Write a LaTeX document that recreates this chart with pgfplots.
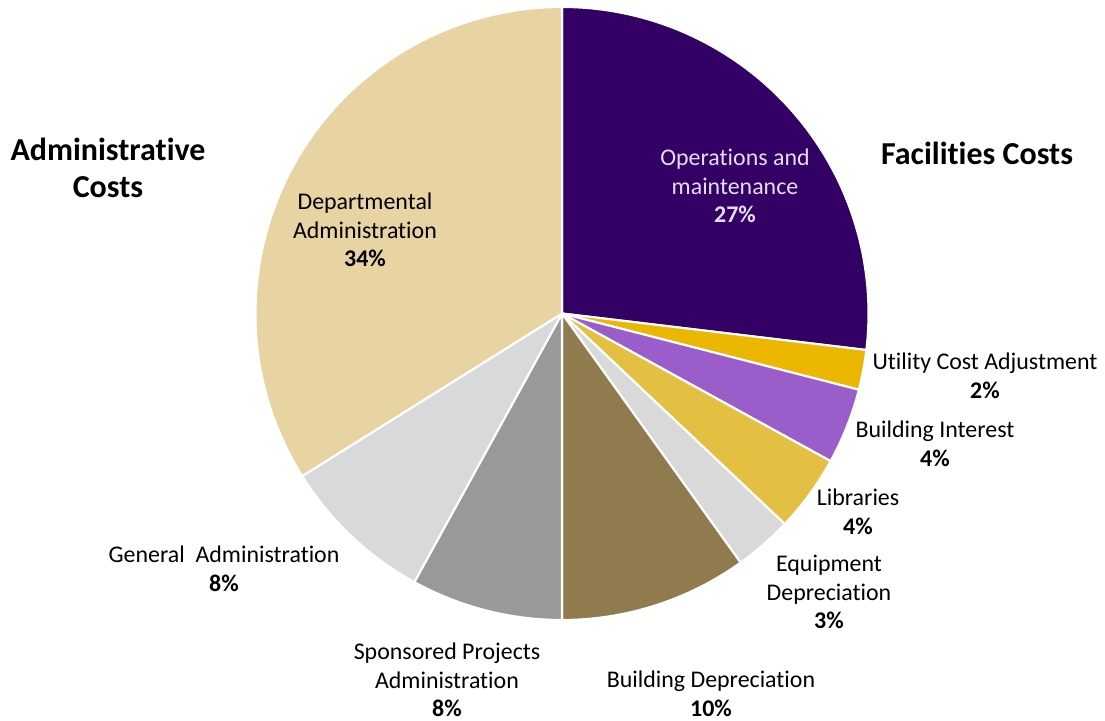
\documentclass[border=0pt]{standalone}
\usepackage{pgfplots}
\pgfplotsset{compat=1.18}
\usepackage{pgfplotstable}
\usepackage{fontspec}
\setmainfont[Ligatures=NoCommon]{Carlito}

\definecolor{cOM}{HTML}{330066}
\definecolor{cUtil}{HTML}{EBB700}
\definecolor{cBInt}{HTML}{9B5DCA}
\definecolor{cLib}{HTML}{E3BF42}
\definecolor{cEquip}{HTML}{D9D9D9}
\definecolor{cBDep}{HTML}{8F7B4D}
\definecolor{cSpon}{HTML}{999999}
\definecolor{cGen}{HTML}{D8D9DB}
\definecolor{cDept}{HTML}{E8D3A2}
\definecolor{cOMtext}{HTML}{E6DDF0}

% share of each slice in percent, clockwise from 12 o'clock
\pgfplotstableread{
value color
26.9  cOM
2.1   cUtil
4.0   cBInt
4.05  cLib
3.05  cEquip
9.9   cBDep
8.0   cSpon
8.1   cGen
33.9  cDept
}\piedata

\begin{document}
\begin{tikzpicture}
\begin{axis}[
    x=0.2mm, y=0.2mm,
    xmin=0, xmax=1105, ymin=0, ymax=721,
    hide axis,
    clip=false,
]
\path (axis cs:0,0) rectangle (axis cs:1105,721);
\def\angA{90}
\pgfplotsforeachungrouped \i in {0,...,8}{
  \pgfplotstablegetelem{\i}{value}\of\piedata \let\v\pgfplotsretval
  \pgfplotstablegetelem{\i}{color}\of\piedata \let\c\pgfplotsretval
  \pgfmathsetmacro\angB{\angA-3.6*\v}
  \edef\temp{\noexpand\fill[\c, draw=white, line width=1.2pt, line join=round]
    (axis cs:562,407.5) -- ++(\angA:61.3mm)
    arc[start angle=\angA, end angle=\angB, radius=61.3mm] -- cycle;}
  \temp
  \global\let\angA\angB
}
\tikzset{lab/.style={align=center, font=\fontsize{13.6}{16.3}\selectfont, inner sep=0pt}}
\node[lab, text=cOMtext] at (axis cs:735,535) {Operations and\\maintenance\\\textbf{27\%}};
\node[lab] at (axis cs:365,491) {Departmental\\Administration\\\textbf{34\%}};
\node[lab] at (axis cs:985,345) {Utility Cost Adjustment\\\textbf{2\%}};
\node[lab] at (axis cs:935,277) {Building Interest\\\textbf{4\%}};
\node[lab] at (axis cs:858,209) {Libraries\\\textbf{4\%}};
\node[lab] at (axis cs:829,129) {Equipment\\Depreciation\\\textbf{3\%}};
\node[lab] at (axis cs:711,27) {Building Depreciation\\\textbf{10\%}};
\node[lab] at (axis cs:447,41) {Sponsored Projects\\Administration\\\textbf{8\%}};
\node[lab] at (axis cs:224,152) {General\ \ Administration\\\textbf{8\%}};
\node[align=center, inner sep=0pt, font=\fontsize{18.2}{21}\selectfont\bfseries] at (axis cs:108,553.5) {Administrative\\Costs};
\node[align=center, inner sep=0pt, font=\fontsize{18.2}{21}\selectfont\bfseries] at (axis cs:977,568) {Facilities Costs};
\end{axis}
\end{tikzpicture}
\end{document}
